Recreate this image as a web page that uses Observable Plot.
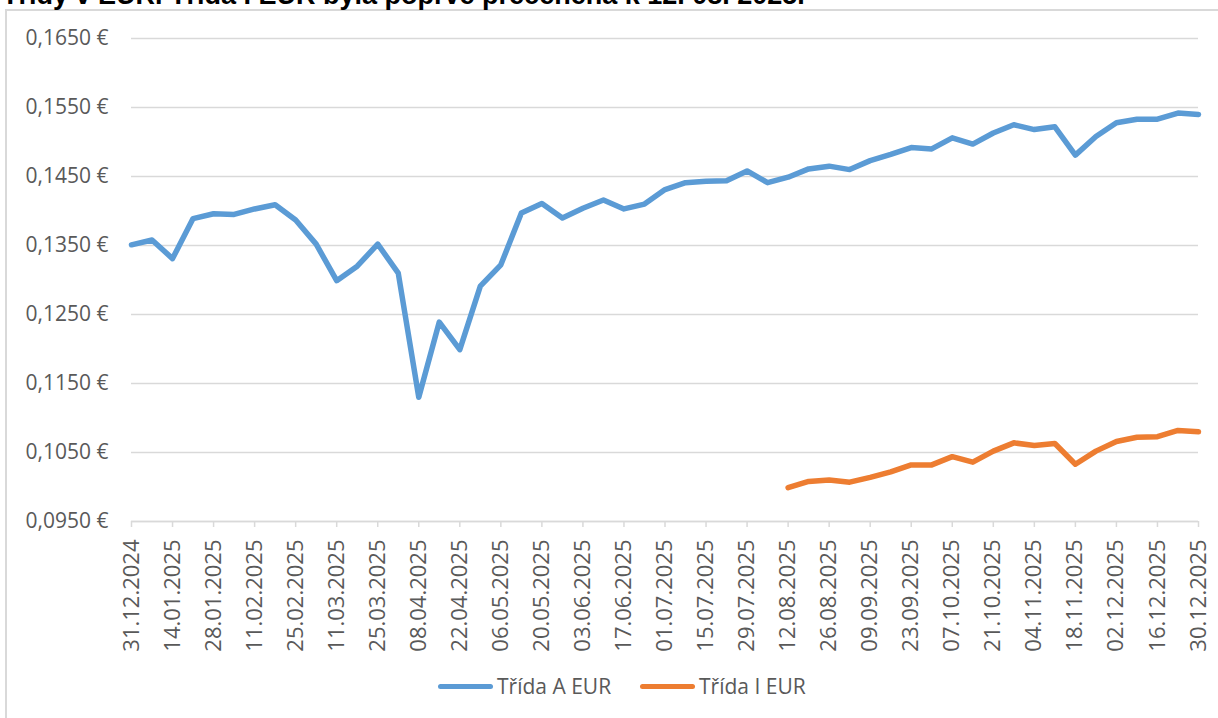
<!DOCTYPE html>
<html>
<head>
<meta charset="utf-8">
<script src="https://cdn.jsdelivr.net/npm/d3@7"></script>
<script src="https://cdn.jsdelivr.net/npm/@observablehq/plot@0.6"></script>
<style>
  html, body { margin: 0; padding: 0; background: #fff; overflow: hidden; }
  #wrap { position: relative; width: 1218px; height: 718px; overflow: hidden; font-family: "Open Sans", sans-serif; }
  #frame { position: absolute; left: 5px; top: 9px; width: 1300px; height: 800px; border: 2px solid #d9d9d9; box-sizing: border-box; }
  #title { position: absolute; left: 2px; top: -18px; font-family: "Liberation Sans", Arial, sans-serif; font-weight: bold; font-size: 27px; line-height: 27px; color: #000; white-space: nowrap; }
  #chart { position: absolute; left: 0; top: 0; }
  .leg { position: absolute; top: 672px; font-size: 21px; line-height: 28px; color: #595959; white-space: nowrap; }
  .sw { position: absolute; height: 5px; border-radius: 3px; top: 684px; }
</style>
</head>
<body>
<div id="wrap">
  <div id="frame"></div>
  <div id="title">Třídy v EUR. Třída I EUR byla poprvé přeceněna k 12. 08. 2025.</div>
  <div id="chart"></div>
  <div class="sw" style="left:438px;width:55px;background:#5B9BD5"></div>
  <div class="leg" style="left:497px">Třída A EUR</div>
  <div class="sw" style="left:640px;width:55px;background:#ED7D31"></div>
  <div class="leg" style="left:699px">Třída I EUR</div>
</div>
<script>
const dates = [
  "31.12.2024","07.01.2025","14.01.2025","21.01.2025","28.01.2025","04.02.2025","11.02.2025","18.02.2025",
  "25.02.2025","04.03.2025","11.03.2025","18.03.2025","25.03.2025","01.04.2025","08.04.2025","15.04.2025",
  "22.04.2025","29.04.2025","06.05.2025","13.05.2025","20.05.2025","27.05.2025","03.06.2025","10.06.2025",
  "17.06.2025","24.06.2025","01.07.2025","08.07.2025","15.07.2025","22.07.2025","29.07.2025","05.08.2025",
  "12.08.2025","19.08.2025","26.08.2025","02.09.2025","09.09.2025","16.09.2025","23.09.2025","30.09.2025",
  "07.10.2025","14.10.2025","21.10.2025","28.10.2025","04.11.2025","11.11.2025","18.11.2025","25.11.2025",
  "02.12.2025","09.12.2025","16.12.2025","23.12.2025","30.12.2025"
];
const tridaA = [
  0.1351,0.1358,0.1331,0.1389,0.1396,0.1395,0.1403,0.1409,
  0.1387,0.1352,0.1299,0.1320,0.1352,0.1310,0.1130,0.1239,
  0.1199,0.1291,0.1322,0.1397,0.1411,0.1390,0.1404,0.1416,
  0.1403,0.1410,0.1431,0.1441,0.1443,0.1444,0.1458,0.1441,
  0.1449,0.1461,0.1465,0.1460,0.1473,0.1482,0.1492,0.1490,
  0.1506,0.1497,0.1513,0.1525,0.1518,0.1522,0.1481,0.1508,
  0.1528,0.1533,0.1533,0.1542,0.1540
];
const tridaI = [
  null,null,null,null,null,null,null,null,
  null,null,null,null,null,null,null,null,
  null,null,null,null,null,null,null,null,
  null,null,null,null,null,null,null,null,
  0.0999,0.1008,0.1010,0.1007,0.1014,0.1022,0.1032,0.1032,
  0.1044,0.1036,0.1052,0.1064,0.1060,0.1063,0.1033,0.1052,
  0.1066,0.1072,0.1073,0.1082,0.1080
];
const xTickLabels = [
  "31.12.2024","14.01.2025","28.01.2025","11.02.2025","25.02.2025","11.03.2025","25.03.2025",
  "08.04.2025","22.04.2025","06.05.2025","20.05.2025","03.06.2025","17.06.2025","01.07.2025",
  "15.07.2025","29.07.2025","12.08.2025","26.08.2025","09.09.2025","23.09.2025","07.10.2025",
  "21.10.2025","04.11.2025","18.11.2025","02.12.2025","16.12.2025","30.12.2025"
];
const yTicks = [0.095,0.105,0.115,0.125,0.135,0.145,0.155,0.165];

const seriesA = dates.map((d, i) => ({date: d, value: tridaA[i]}));
const seriesI = dates.map((d, i) => ({date: d, value: tridaI[i]})).filter(r => r.value != null);

const fmt = v => v.toFixed(4).replace(".", ",") + " €";

const chart = Plot.plot({
  width: 1218,
  height: 660,
  marginLeft: 131,
  marginRight: 20,
  marginTop: 38,
  marginBottom: 139,
  style: {fontFamily: "Open Sans", background: "transparent", overflow: "visible"},
  x: {type: "point", domain: dates, padding: 0, round: false},
  y: {domain: [0.095, 0.165]},
  marks: [
    Plot.gridY(yTicks, {stroke: "#d9d9d9", strokeOpacity: 1, strokeWidth: 1.5, inset: 0}),
    Plot.axisY(yTicks, {tickSize: 0, tickPadding: 23, tickFormat: fmt, fontSize: 21, fill: "#595959", label: null}),
    Plot.axisX(xTickLabels, {tickSize: 6, tickPadding: 12, tickRotate: -90, fontSize: 22, stroke: "#d9d9d9", strokeWidth: 1.5, fill: "#595959", label: null}),
    Plot.ruleY([0.095], {stroke: "#d9d9d9", strokeWidth: 1.5}),
    Plot.lineY(seriesA, {x: "date", y: "value", stroke: "#5B9BD5", strokeWidth: 5.5, strokeLinejoin: "round", strokeLinecap: "round"}),
    Plot.lineY(seriesI, {x: "date", y: "value", stroke: "#ED7D31", strokeWidth: 5.5, strokeLinejoin: "round", strokeLinecap: "round"})
  ]
});
document.getElementById("chart").appendChild(chart);
</script>
</body>
</html>
